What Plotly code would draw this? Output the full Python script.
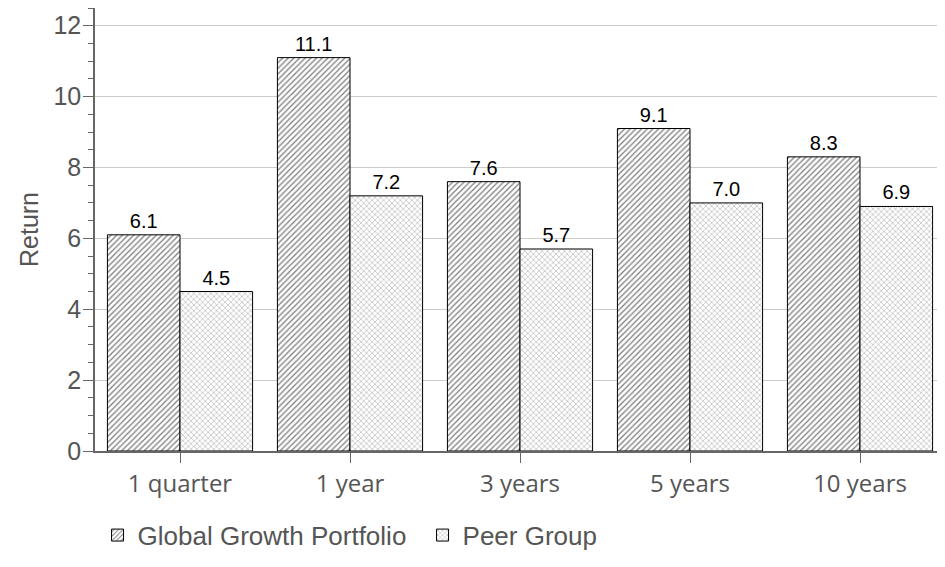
import plotly.graph_objects as go

categories = ["1 quarter", "1 year", "3 years", "5 years", "10 years"]
portfolio = [6.1, 11.1, 7.6, 9.1, 8.3]
peer = [4.5, 7.2, 5.7, 7.0, 6.9]

label_font = dict(family="Liberation Sans Narrow, Arial Narrow, Liberation Sans", size=20, color="black")

fig = go.Figure()
fig.add_trace(go.Bar(
    x=categories, y=portfolio, name="Global Growth Portfolio",
    marker=dict(color="white", line=dict(color="black", width=1),
                pattern=dict(shape="/", fgcolor="black", bgcolor="white", size=4, solidity=0.33)),
    texttemplate="%{y:.1f}", textposition="outside", textfont=label_font,
    cliponaxis=False,
))
fig.add_trace(go.Bar(
    x=categories, y=peer, name="Peer Group",
    marker=dict(color="white", line=dict(color="black", width=1),
                pattern=dict(shape="x", fgcolor="#808080", bgcolor="white", size=4, solidity=0.35)),
    texttemplate="%{y:.1f}", textposition="outside", textfont=label_font,
    cliponaxis=False,
))

fig.update_layout(
    width=945, height=567,
    margin=dict(l=87, r=8, t=0, b=124),
    paper_bgcolor="white", plot_bgcolor="white",
    barmode="group", bargap=0.146, bargroupgap=0,
    showlegend=True,
    legend=dict(orientation="h", x=0.003, xanchor="left", y=-0.19, yanchor="middle",
                font=dict(family="Liberation Sans, Arial", size=26, color="#555555"),
                traceorder="normal", entrywidth=280),
    xaxis=dict(
        range=[-0.5, 4.5], showline=True, linecolor="#666666", linewidth=1.5,
        ticks="outside", ticklen=10, tickcolor="#666666",
        tickfont=dict(family="Open Sans", size=24, color="#555555"),
        showgrid=False, automargin=False,
    ),
    yaxis=dict(
        range=[0, 12.5], dtick=2, showline=True, linecolor="#666666", linewidth=1.5,
        ticks="outside", ticklen=10, tickcolor="#666666",
        tickfont=dict(family="Liberation Sans, Arial", size=25, color="#555555"),
        ticklabelstandoff=-3,
        showgrid=True, gridcolor="#cccccc", gridwidth=1,
        minor=dict(dtick=0.5, ticks="outside", ticklen=5, tickcolor="#666666", showgrid=False),
        title=dict(text="Return", font=dict(family="Liberation Sans, Arial", size=25, color="#555555"), standoff=8),
        zeroline=False, automargin=False,
    ),
)

fig.write_html("out.html")
